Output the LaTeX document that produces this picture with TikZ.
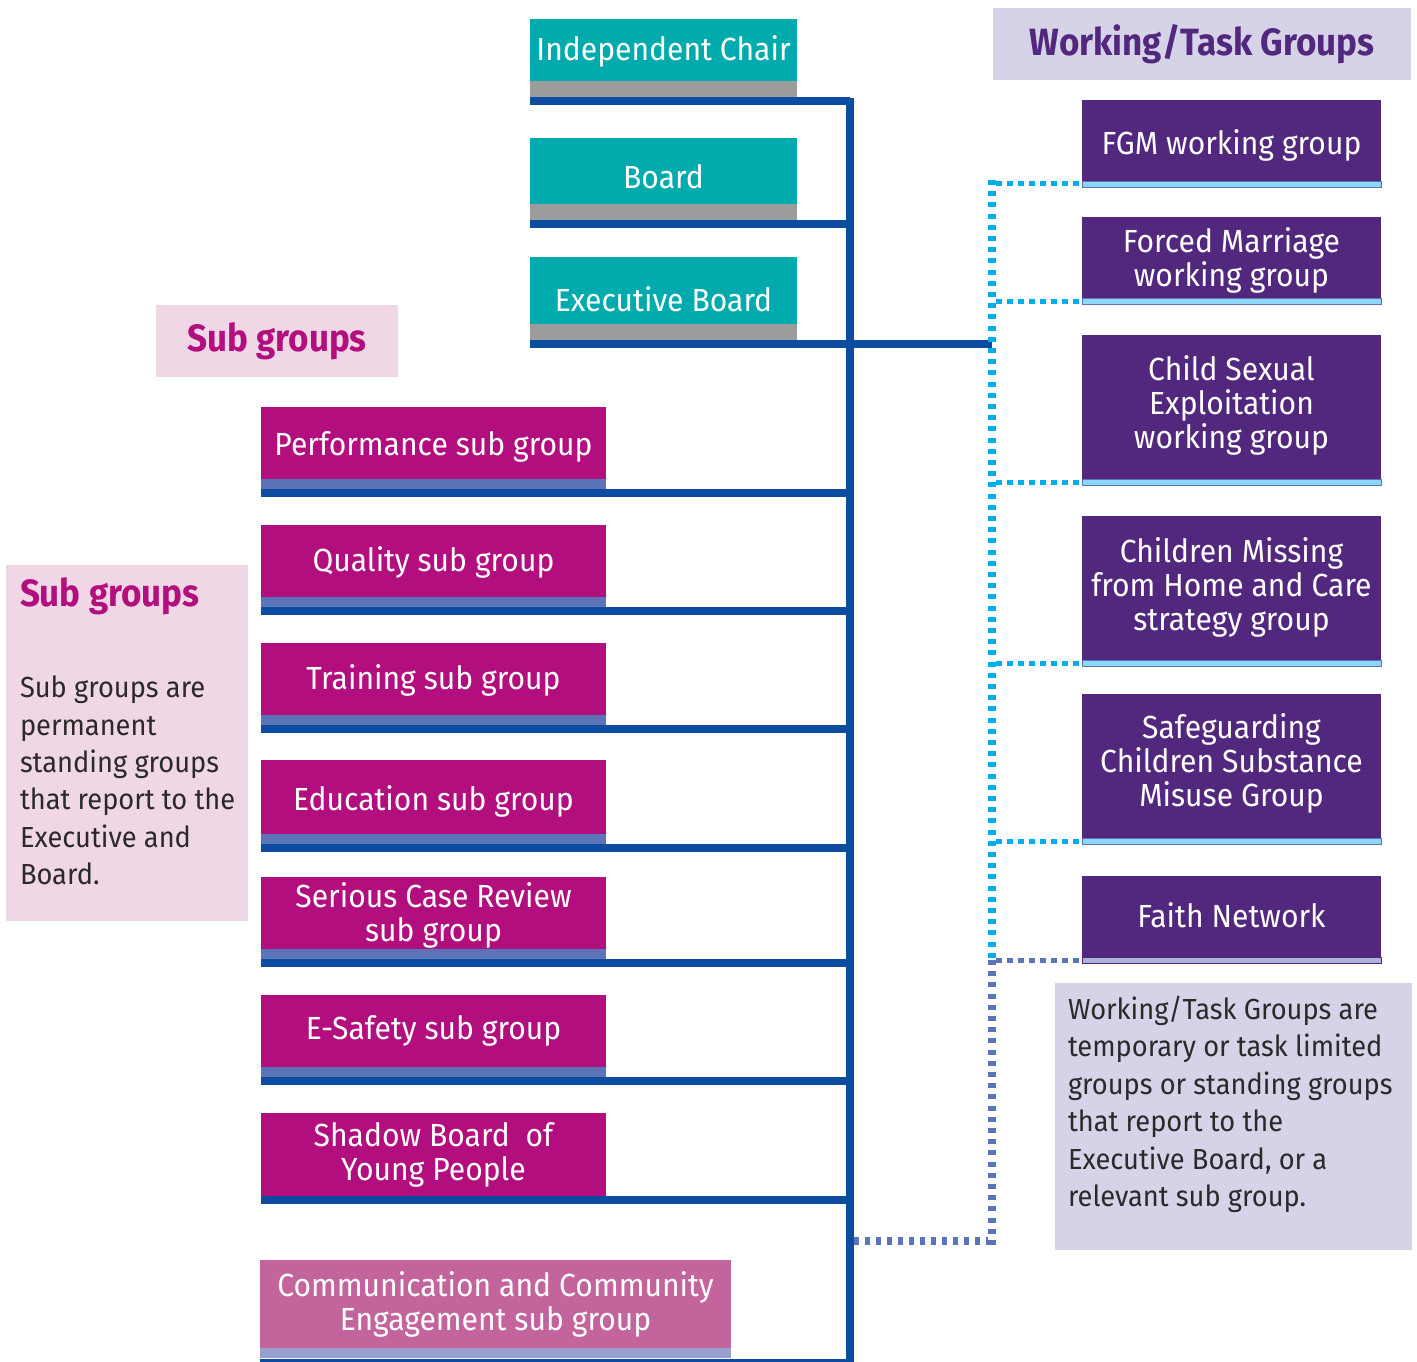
\documentclass[tikz,border=0pt]{standalone}
\usepackage{fontspec}
\setmainfont[FakeStretch=0.94]{Fira Sans}
\newfontfamily\headfont[FakeStretch=0.92]{Fira Sans}
\definecolor{teal}{HTML}{00AAAD}
\definecolor{grayb}{HTML}{9C9C9C}
\definecolor{trunkblue}{HTML}{0D4DA1}
\definecolor{magenta}{HTML}{B30E7E}
\definecolor{bandblue}{HTML}{5B73B7}
\definecolor{commpink}{HTML}{C4649D}
\definecolor{commband}{HTML}{97A0CF}
\definecolor{lightpink}{HTML}{EFD7E6}
\definecolor{lavender}{HTML}{D6D2E8}
\definecolor{purple}{HTML}{52287E}
\definecolor{lightblue}{HTML}{8DD8F8}
\definecolor{cyandot}{HTML}{00AEEF}
\definecolor{faithband}{HTML}{AEB2DA}
\definecolor{darktext}{HTML}{2B2A29}
\begin{document}
\begin{tikzpicture}[x=1pt,y=-1pt,
  every node/.style={inner sep=0pt, outer sep=0pt},
  orgbox/.style 2 args={anchor=north west, minimum width=#1, minimum height=#2},
  lbl/.style={text=white, align=center, font=\fontsize{32}{34}\selectfont},
  bandbox/.style 2 args={anchor=north west, minimum width=#1, minimum height=#2},
  trunkline/.style={draw=trunkblue, line width=8pt},
  cdotv/.style={draw=cyandot, line width=8pt, dash pattern=on 5pt off 6.2pt},
  cdoth/.style={draw=cyandot, line width=5pt, dash pattern=on 5.5pt off 5.5pt},
  bdotv/.style={draw=bandblue, line width=8pt, dash pattern=on 5pt off 6.2pt},
  bdoth/.style={draw=bandblue, line width=5pt, dash pattern=on 5.5pt off 5.5pt},
  bdotb/.style={draw=bandblue, line width=8pt, dash pattern=on 5pt off 6pt},
  heading/.style={font=\headfont\fontsize{38}{40}\selectfont\bfseries},
  bodytext/.style={align=left, text=darktext, font=\fontsize{29}{37.4}\selectfont},
]
\useasboundingbox (0,0) rectangle (1417,1362);

% trunk and dotted spine
\coordinate (trunk) at (850,98);
\coordinate (trunkend) at (850,1362);
\coordinate (dotx) at (992,180);
\coordinate (dotmid) at (992,960);
\coordinate (dotend) at (992,1245);
\coordinate (trunkdot) at (854,1241);

% ---- teal boxes ----
\node[orgbox={267pt}{62pt}, fill=teal] (ic) at (530,19) {};
\node[bandbox={267pt}{16pt}, fill=grayb] (icb) at (ic.south west) {};
\node[lbl] (ict) at ([yshift=-1pt]ic.center) {Independent Chair};
\node[orgbox={267pt}{66pt}, fill=teal] (bd) at (530,138) {};
\node[bandbox={267pt}{16pt}, fill=grayb] (bdb) at (bd.south west) {};
\node[lbl] (bdt) at ([yshift=-6pt]bd.center) {Board};
\node[orgbox={267pt}{67pt}, fill=teal] (eb) at (530,257) {};
\node[bandbox={267pt}{16pt}, fill=grayb] (ebb) at (eb.south west) {};
\node[lbl] (ebt) at ([yshift=-9pt]eb.center) {Executive Board};

% ---- sub groups label ----
\node[anchor=north west, minimum width=242pt, minimum height=72pt, fill=lightpink,
      text=magenta, heading] (sgl) at (156,305) {Sub groups};

% ---- magenta boxes ----
\node[orgbox={345pt}{72pt}, fill=magenta] (perf) at (261,407) {};
\node[bandbox={345pt}{10pt}, fill=bandblue] (perfb) at (perf.south west) {};
\node[lbl] (perft) at ([yshift=-4pt]perf.center) {Performance sub group};
\node[orgbox={345pt}{72pt}, fill=magenta] (qual) at (261,525) {};
\node[bandbox={345pt}{10pt}, fill=bandblue] (qualb) at (qual.south west) {};
\node[lbl] (qualt) at ([yshift=-1pt]qual.center) {Quality sub group};
\node[orgbox={345pt}{72pt}, fill=magenta] (train) at (261,643) {};
\node[bandbox={345pt}{10pt}, fill=bandblue] (trainb) at (train.south west) {};
\node[lbl] (traint) at ([yshift=-1pt]train.center) {Training sub group};
\node[orgbox={345pt}{74pt}, fill=magenta] (edu) at (261,760) {};
\node[bandbox={345pt}{10pt}, fill=bandblue] (edub) at (edu.south west) {};
\node[lbl] (edut) at ([yshift=-4pt]edu.center) {Education sub group};
\node[orgbox={345pt}{72pt}, fill=magenta] (scr) at (261,877) {};
\node[bandbox={345pt}{10pt}, fill=bandblue] (scrb) at (scr.south west) {};
\node[lbl] (scrt) at ([yshift=-2pt]scr.center) {Serious Case Review\\sub group};
\node[orgbox={345pt}{72pt}, fill=magenta] (esafe) at (261,995) {};
\node[bandbox={345pt}{10pt}, fill=bandblue] (esafeb) at (esafe.south west) {};
\node[lbl] (esafet) at (esafe.center) {E-Safety sub group};
\node[orgbox={345pt}{83pt}, fill=magenta] (shadow) at (261,1113) {};
\node[lbl] (shadowt) at (shadow.center) {Shadow Board\ \ of\\Young People};
\node[orgbox={471pt}{88pt}, fill=commpink] (comm) at (260,1260) {};
\node[bandbox={471pt}{10pt}, fill=commband] (commb) at (comm.south west) {};
\node[lbl] (commt) at (comm.center) {Communication and Community\\Engagement sub group};

% ---- trunk connectors ----
\draw[trunkline] (trunk) -- (trunkend);
\foreach \b in {icb,bdb,perfb,qualb,trainb,edub,scrb,esafeb}{
  \draw[trunkline] ([yshift=-4pt]\b.south west) -- ([yshift=-4pt]\b.south west -| trunk);
}
\draw[trunkline] ([yshift=-4pt]shadow.south west) -- ([yshift=-4pt]shadow.south west -| trunk);
\draw[draw=trunkblue, line width=3pt] ([yshift=-2pt]commb.south west) -- ([yshift=-2pt]commb.south west -| trunk);
\draw[trunkline] ([yshift=-4pt]ebb.south west) -- ([yshift=-4pt]ebb.south west -| dotx);

% ---- working groups header ----
\node[anchor=north west, minimum width=418pt, minimum height=72pt, fill=lavender,
      text=purple, heading] (wtg) at (993,8) {Working/Task Groups};

% ---- purple boxes ----
\node[orgbox={299pt}{81pt}, fill=purple] (fgm) at (1082,100) {};
\node[bandbox={299pt}{6pt}, fill=lightblue, draw=bandblue, line width=0.8pt] (fgmb) at (fgm.south west) {};
\node[lbl] (fgmt) at ([yshift=-5pt]fgm.center) {FGM working group};
\node[orgbox={299pt}{81pt}, fill=purple] (fm) at (1082,217) {};
\node[bandbox={299pt}{6pt}, fill=lightblue, draw=bandblue, line width=0.8pt] (fmb) at (fm.south west) {};
\node[lbl] (fmt) at ([yshift=-3pt]fm.center) {Forced Marriage\\working group};
\node[orgbox={299pt}{144pt}, fill=purple] (cse) at (1082,335) {};
\node[bandbox={299pt}{6pt}, fill=lightblue, draw=bandblue, line width=0.8pt] (cseb) at (cse.south west) {};
\node[lbl] (cset) at ([yshift=2pt]cse.center) {Child Sexual\\Exploitation\\working group};
\node[orgbox={299pt}{144pt}, fill=purple] (cmh) at (1082,516) {};
\node[bandbox={299pt}{6pt}, fill=lightblue, draw=bandblue, line width=0.8pt] (cmhb) at (cmh.south west) {};
\node[lbl] (cmht) at ([yshift=1pt]cmh.center) {Children Missing\\from Home and Care\\strategy group};
\node[orgbox={299pt}{144pt}, fill=purple] (scsm) at (1082,694) {};
\node[bandbox={299pt}{6pt}, fill=lightblue, draw=bandblue, line width=0.8pt] (scsmb) at (scsm.south west) {};
\node[lbl] (scsmt) at ([yshift=3pt]scsm.center) {Safeguarding\\Children Substance\\Misuse Group};
\node[orgbox={299pt}{81pt}, fill=purple] (faith) at (1082,876) {};
\node[bandbox={299pt}{6pt}, fill=faithband, draw=purple, line width=0.8pt] (faithb) at (faith.south west) {};
\node[lbl] (faitht) at ([yshift=1pt]faith.center) {Faith Network};

% ---- dotted connectors ----
\draw[cdotv] (dotx) -- (dotmid);
\draw[bdotv] (dotmid) -- (dotend);
\foreach \b in {fgmb,fmb,cseb,cmhb,scsmb}{
  \draw[cdoth] ([xshift=4pt]\b.west -| dotx) -- ([xshift=-2pt]\b.west);
}
\draw[bdoth] ([xshift=4pt]faithb.west -| dotx) -- ([xshift=-2pt]faithb.west);
\draw[bdotb] (trunkdot) -- ([xshift=-4pt]trunkdot -| dotx);

% ---- explanation boxes ----
\node[anchor=north west, minimum width=242pt, minimum height=356pt, fill=lightpink] (lbox) at (6,565) {};
\node[anchor=west, text=magenta, heading] (lboxh) at (20,596) {Sub groups};
\node[anchor=north west, bodytext] (lboxt) at (20,676)
  {Sub groups are\\permanent\\standing groups\\that report to the\\Executive and\\Board.};

\node[anchor=north west, minimum width=357pt, minimum height=267pt, fill=lavender] (rbox) at (1055,983) {};
\node[anchor=north west, bodytext] (rboxt) at (1068,996)
  {Working/Task Groups are\\temporary or task limited\\groups or standing groups\\that report to the\\Executive Board, or a\\relevant sub group.};
\end{tikzpicture}
\end{document}
